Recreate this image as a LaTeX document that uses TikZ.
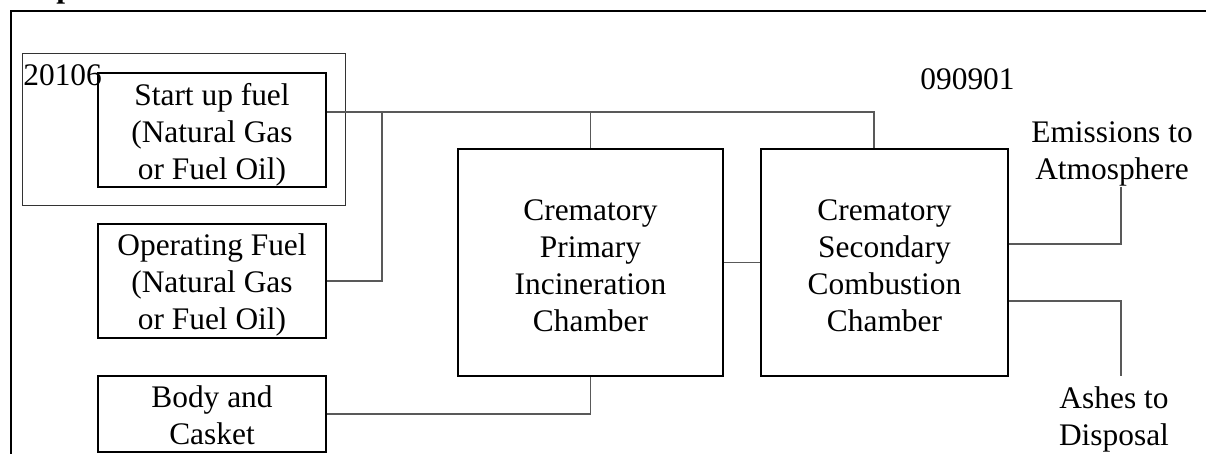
\documentclass[tikz,border=0pt]{standalone}
\usepackage{fontspec}
\setmainfont{Liberation Serif}
\usetikzlibrary{calc}
\begin{document}
\begin{tikzpicture}[x=0.5pt,y=-0.5pt,
  txt/.style={font=\fontsize{15.7}{18.5}\selectfont},
  procbox/.style={draw=black, line width=1pt, inner sep=0pt},
  conn/.style={draw=black!65, line width=0.8pt},
  lbl/.style={inner sep=0pt, align=center, txt},
]
\useasboundingbox (0,0) rectangle (1206,454);
% outer frame
\coordinate (fbl) at (11,470);
\coordinate (ftl) at (11,11);
\coordinate (ftr) at (1220,11);
\draw[line width=1pt] (fbl) -- (ftl) -- (ftr);
% cut-off heading fragment
\node[inner sep=0pt, anchor=base west, font=\fontsize{15.7}{18.5}\selectfont\bfseries] (head) at (56,-2) {p};
% group box
\node[draw=black!80, line width=0.5pt, minimum width=161.5pt, minimum height=76pt, inner sep=0pt] (grp) at (183.5,130) {};
% boxes
\node[procbox, minimum width=114pt, minimum height=57pt] (start) at (212,130) {};
\node[procbox, minimum width=114pt, minimum height=57pt] (oper) at (212,281) {};
\node[procbox, minimum width=114pt, minimum height=38pt] (body) at (212,414) {};
\node[procbox, minimum width=132.5pt, minimum height=113.5pt] (prim) at (590.5,262.5) {};
\node[procbox, minimum width=123.5pt, minimum height=113.5pt] (sec) at (884.5,262.5) {};
% box texts
\node[lbl] (startT) at ($(start.center)+(0,5)$) {Start up fuel\\(Natural Gas\\or Fuel Oil)};
\node[lbl] (operT) at ($(oper.center)+(0,4)$) {Operating Fuel\\(Natural Gas\\or Fuel Oil)};
\node[lbl] (bodyT) at ($(body.center)+(0,1)$) {Body and\\Casket};
\node[lbl] (primT) at ($(prim.center)+(0,3)$) {Crematory\\Primary\\Incineration\\Chamber};
\node[lbl] (secT) at ($(sec.center)+(0,3)$) {Crematory\\Secondary\\Combustion\\Chamber};
% labels
\node[lbl, anchor=base west] (code1) at (23,86) {20106};
\node[lbl, anchor=base west] (code2) at (920,90) {090901};
\node[lbl] (emis) at (1112,154) {Emissions to\\Atmosphere};
\node[lbl] (ash) at (1114,419) {Ashes to\\Disposal};
% junction coordinates
\coordinate (top) at (874,112);
\coordinate (j2) at (382,112);
\coordinate (e1) at (1121,244);
\coordinate (e2) at (1121,187);
\coordinate (a1) at (1121,301);
\coordinate (a2) at (1121,376);
% connectors
\draw[conn] (start.east |- top) -- (top) -- (top |- sec.north);
\draw[conn] (prim.north |- top) -- (prim.north);
\draw[conn] (oper.east) -- (oper.east -| j2) -- (j2);
\draw[conn] (body.east) -- (body.east -| prim.south) -- (prim.south);
\draw[conn] (prim.east) -- (sec.west);
\draw[conn] (sec.east |- e1) -- (e1) -- (e2);
\draw[conn] (sec.east |- a1) -- (a1) -- (a2);
\end{tikzpicture}
\end{document}
